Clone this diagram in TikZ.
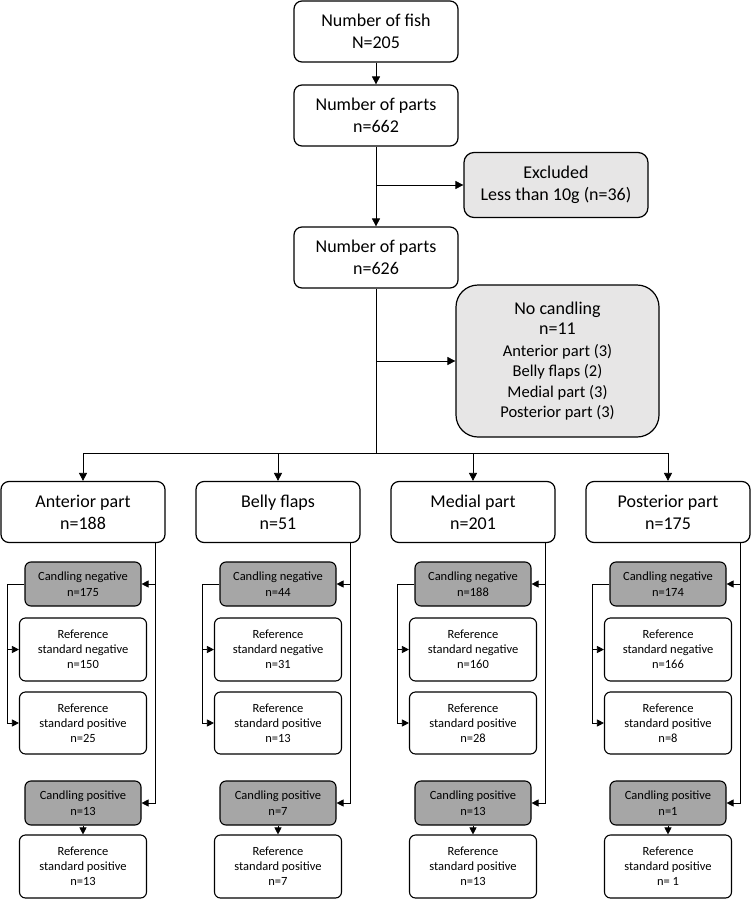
\documentclass[tikz,border=0pt]{standalone}
\usepackage{fontspec}
\setmainfont{Carlito}
\usetikzlibrary{arrows.meta}
\definecolor{boxgray}{RGB}{231,230,230}
\definecolor{candgray}{RGB}{166,166,166}

\begin{document}
\begin{tikzpicture}[x=1pt,y=-1pt,
  mainbox/.style={draw, line width=1.2pt, rounded corners=8pt, fill=white,
    minimum width=164pt, minimum height=61pt, inner sep=0pt, align=center,
    font=\fontsize{18}{22}\selectfont},
  sidebox/.style={mainbox, fill=boxgray, rounded corners=10pt},
  candbox/.style={draw, line width=1.1pt, rounded corners=6pt, fill=candgray,
    minimum width=116pt, minimum height=44pt, inner sep=0pt, align=center,
    font=\fontsize{12.5}{16}\selectfont},
  refbox/.style={candbox, fill=white, minimum width=127pt, minimum height=63pt,
    font=\fontsize{12.5}{15}\selectfont},
  plainline/.style={line width=0.7pt},
  arrowline/.style={plainline, -{Triangle[length=8pt,width=8pt]}},
  smallarrow/.style={plainline, -{Triangle[length=7pt,width=7pt]}}
]

% Background
\fill[white] (0,0) rectangle (751,900);
\useasboundingbox (0,0) rectangle (751,900);

% Top of the flow
\node[mainbox] (fish) at (376,31.5) {Number of fish\\N=205};
\node[mainbox] (parts1) at (376,115.5) {Number of parts\\n=662};
\node[mainbox] (parts2) at (376,257.5) {Number of parts\\n=626};
\node[sidebox, minimum width=184pt, minimum height=65pt] (excl) at (556,185)
  {Excluded\\Less than 10g (n=36)};
\node[sidebox, minimum width=203pt, minimum height=152pt, rounded corners=22pt,
  font=\fontsize{16.5}{20.5}\selectfont] (nocand) at (557.5,361)
  {\fontsize{18}{21}\selectfont No candling\\\fontsize{18}{21}\selectfont n=11\\[1pt]Anterior part (3)\\Belly flaps (2)\\Medial part (3)\\Posterior part (3)};

\draw[arrowline] (fish) -- (parts1);
\draw[arrowline] (parts1) -- (parts2);
\draw[arrowline] (parts1.south |- excl.west) -- (excl.west);
\draw[arrowline] (parts2.south |- nocand.west) -- (nocand.west);

% Split into the four parts
\coordinate (split) at (376,453);
\draw[plainline] (parts2.south) -- (split);

\foreach \i/\cx/\pname/\pn/\cn/\rn/\rp/\cp/\fp in {
1/83/Anterior part/188/175/150/25/13/n=13,
2/278/Belly flaps/51/44/31/13/7/n=7,
3/473/Medial part/201/188/160/28/13/n=13,
4/668/Posterior part/175/174/166/8/1/n= 1
} {
    \node[mainbox] (part\i) at (\cx,512) {\pname\\n=\pn};
    \node[candbox] (cneg\i) at (\cx,584) {Candling negative\\n=\cn};
    \node[refbox] (rneg\i) at (\cx,649.5) {Reference\\standard negative\\n=\rn};
    \node[refbox, minimum height=62pt] (rpos\i) at (\cx,723) {Reference\\standard positive\\n=\rp};
    \node[candbox] (cpos\i) at (\cx,803) {Candling positive\\n=\cp};
    \node[refbox] (fpos\i) at (\cx,866.5) {Reference\\standard positive\\\fp};

    \draw[arrowline] (split) -| (part\i.north);
    \draw[smallarrow] ([xshift=72pt]part\i.south) |- (cneg\i.east);
    \draw[smallarrow] ([xshift=72pt]part\i.south) |- (cpos\i.east);
    \draw[smallarrow] (cneg\i.west) -- ++(-17pt,0) |- (rneg\i.west);
    \draw[smallarrow] (cneg\i.west) -- ++(-17pt,0) |- (rpos\i.west);
    \draw[smallarrow] (cpos\i) -- (fpos\i);
}

\end{tikzpicture}
\end{document}
